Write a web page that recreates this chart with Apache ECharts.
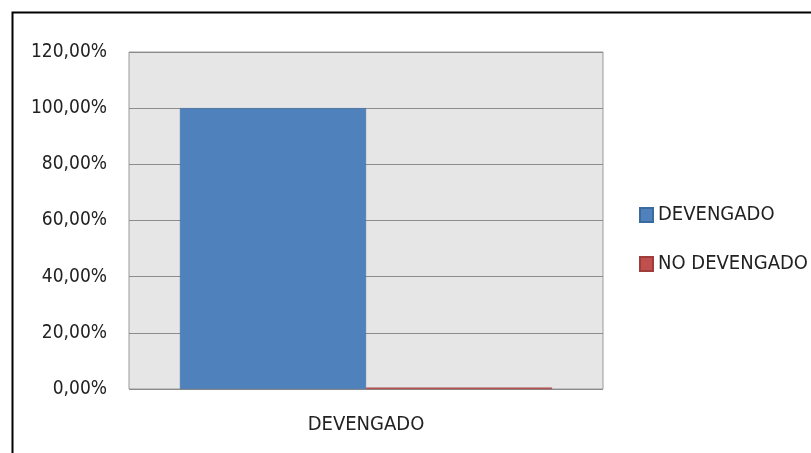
<!DOCTYPE html>
<html><head><meta charset="utf-8">
<script src="https://cdn.jsdelivr.net/npm/echarts@6/dist/echarts.min.js"></script>
<style>html,body{margin:0;padding:0;background:#fff}#c{width:811px;height:453px}</style>
</head><body><div id="c"></div>
<script>
const categories = ['DEVENGADO'];
const devengado = [100];
const noDevengado = [0.5];
const seriesNames = ['DEVENGADO', 'NO DEVENGADO'];
const FONT = '"Liberation Sans Narrow", "DejaVu Sans Condensed", sans-serif';
const chart = echarts.init(document.getElementById('c'));
chart.setOption({
  animation: false,
  backgroundColor: '#fff',
  graphic: [{
    type: 'rect', left: 10, top: 10, silent: true, z: -1,
    shape: { width: 830, height: 470 },
    style: { fill: 'none', stroke: '#000', lineWidth: 2 }
  }],
  grid: { left: 129, right: 208, top: 52, bottom: 64, show: true, backgroundColor: '#e6e6e6', borderColor: '#9a9a9a', borderWidth: 1 },
  legend: {
    orient: 'vertical', left: 639, top: 205, padding: 0, itemWidth: 13, itemHeight: 14, itemGap: 29,
    icon: 'rect',
    textStyle: { fontFamily: FONT, fontSize: 20, color: '#222' },
    data: seriesNames
  },
  xAxis: {
    type: 'category', data: categories,
    axisLine: { show: false }, axisTick: { show: false },
    axisLabel: { fontFamily: FONT, fontSize: 20, color: '#222', margin: 26 }
  },
  yAxis: {
    type: 'value', min: 0, max: 120, interval: 20,
    axisLine: { show: false }, axisTick: { show: false },
    splitLine: { lineStyle: { color: '#8c8c8c', width: 1 } },
    axisLabel: { fontFamily: FONT, fontSize: 19, color: '#222', margin: 22,
      formatter: v => v.toFixed(2).replace('.', ',') + '%' }
  },
  series: [
    { name: seriesNames[0], type: 'bar', data: devengado, barGap: '0%', barCategoryGap: '21.5%',
      itemStyle: { color: '#4f81bd', borderColor: '#3a6a9e', borderWidth: 0.5 } },
    { name: seriesNames[1], type: 'bar', data: noDevengado,
      itemStyle: { color: '#c0504d', borderColor: '#a03c3a', borderWidth: 0.5 } }
  ]
});
</script></body></html>
